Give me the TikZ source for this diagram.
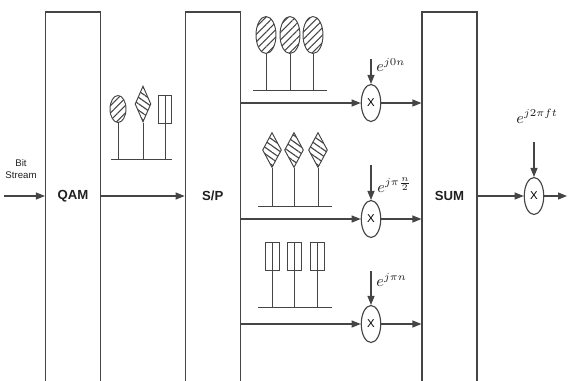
\documentclass[tikz,border=0pt]{standalone}
\usepackage{fontspec}
\setsansfont{Liberation Sans}
\usepackage{xcolor}
\definecolor{lineGray}{HTML}{454545}
\definecolor{darkText}{HTML}{202020}
\usepackage{tikz}
\usetikzlibrary{
    shapes.geometric,
    arrows.meta,
    patterns.meta,
    positioning,
    calc
}
\tikzset{
    % Tall blocks, open at the bottom of the page
    block/.style={
        rectangle,
        draw=lineGray,
        line width=0.65pt,
        minimum width=1.1cm,
        minimum height=8cm,
        inner sep=0pt,
    },
    % Text inside the blocks
    block label/.style={
        font=\sffamily\bfseries\fontsize{7.5}{8}\selectfont,
        text=darkText,
    },
    % Multiplier ellipses
    mixer/.style={
        ellipse,
        draw=lineGray,
        line width=0.65pt,
        fill=white,
        minimum width=0.39cm,
        minimum height=0.74cm,
        inner sep=0pt,
        font=\sffamily\fontsize{6.5}{7}\selectfont,
    },
    % Symbol shapes on stems
    oval sym/.style={
        ellipse,
        draw=lineGray,
        line width=0.55pt,
        pattern={Lines[angle=45, distance=3pt, line width=0.6pt]},
        pattern color=lineGray,
        inner sep=0pt,
    },
    diamond sym/.style={
        diamond,
        draw=lineGray,
        line width=0.55pt,
        pattern={Lines[angle=-35, distance=3pt, line width=0.65pt]},
        pattern color=lineGray,
        inner sep=0pt,
    },
    bar sym/.style={
        rectangle,
        draw=lineGray,
        line width=0.55pt,
        inner sep=0pt,
        path picture={
            \draw[lineGray, line width=0.45pt] (path picture bounding box.north) -- (path picture bounding box.south);
        },
    },
    stem/.style={
        draw=lineGray,
        line width=0.55pt,
    },
    % Arrow style
    arrow/.style={
        -{Triangle[length=1.8mm, width=1.4mm]},
        line width=0.65pt,
        draw=lineGray,
    },
    phase label/.style={
        font=\small,
        text=darkText,
        inner sep=0pt,
    },
}

\begin{document}
\begin{tikzpicture}[x=0.02cm, y=-0.02cm]
    \useasboundingbox (0,0) rectangle (568,380);

    % blocks
    \node (qam) [block] at (73,212) {};
    \node (sp) [block] at (212.7,212) {};
    \node (sum) [block] at (449.5,212) {};
    \node (qamtext) [block label] at (73,196) {QAM};
    \node (sptext) [block label] at (212.7,196) {S/P};
    \node (sumtext) [block label] at (449.5,196) {SUM};

    % input
    \coordinate (bitin) at (4,196);
    \node (bittext) [font=\sffamily\fontsize{5.5}{7}\selectfont, align=center, text=darkText] at (21,169) {Bit\\Stream};
    \draw [arrow] (bitin) -- (bitin -| qam.west);
    \draw [arrow] (qamtext -| qam.east) -- (qamtext -| sp.west);

    % symbols between QAM and S/P
    \node (sa1) [oval sym, minimum width=0.32cm, minimum height=0.54cm] at (118,109) {};
    \node (sa2) [diamond sym, minimum width=0.32cm, minimum height=0.72cm] at (143,104) {};
    \node (sa3) [bar sym, minimum width=0.26cm, minimum height=0.56cm] at (165,109) {};
    \coordinate (basea) at (111,159);
    \draw [stem] (basea) -- (172,159);
    \foreach \s in {sa1,sa2,sa3}
        \draw [stem] (\s.south) -- (\s.south |- basea);

    % symbols after S/P
    \foreach \x [count=\i] in {266,290,313}
        \node (so\i) [oval sym, minimum width=0.4cm, minimum height=0.74cm] at (\x,35) {};
    \foreach \x [count=\i] in {272,294,318}
        \node (sd\i) [diamond sym, minimum width=0.38cm, minimum height=0.7cm] at (\x,150) {};
    \foreach \x [count=\i] in {272,294,317}
        \node (sr\i) [bar sym, minimum width=0.28cm, minimum height=0.56cm] at (\x,256) {};
    \coordinate (baseo) at (253,90);
    \coordinate (based) at (258,206);
    \coordinate (baser) at (258,307);
    \draw [stem] (baseo) -- (327,90);
    \draw [stem] (based) -- (332,206);
    \draw [stem] (baser) -- (332,307);
    \foreach \i in {1,2,3} {
        \draw [stem] (so\i.south) -- (so\i.south |- baseo);
        \draw [stem] (sd\i.south) -- (sd\i.south |- based);
        \draw [stem] (sr\i.south) -- (sr\i.south |- baser);
    }

    % multipliers
    \node (mix1) [mixer] at (371,103) {X};
    \node (mix2) [mixer] at (371,219) {X};
    \node (mix3) [mixer] at (371,324) {X};
    \node (mixout) [mixer] at (534,196) {X};

    \coordinate (car1) at (371,59);
    \coordinate (car2) at (371,165);
    \coordinate (car3) at (371,271);
    \coordinate (carout) at (534,142);
    \node (ph1) [phase label, anchor=west] at (376,65) {$e^{j0n}$};
    \node (ph2) [phase label, anchor=west] at (377,185) {$e^{j\pi\frac{n}{2}}$};
    \node (ph3) [phase label, anchor=west] at (376,280) {$e^{j\pi n}$};
    \node (phout) [phase label] at (537,116) {$e^{j2\pi ft}$};

    \foreach \i in {1,2,3} {
        \draw [arrow] (car\i) -- (mix\i.north);
        \draw [arrow] (mix\i -| sp.east) -- (mix\i.west);
        \draw [arrow] (mix\i.east) -- (mix\i -| sum.west);
    }
    \draw [arrow] (carout) -- (mixout.north);
    \draw [arrow] (mixout -| sum.east) -- (mixout.west);
    \coordinate (out) at (567,196);
    \draw [arrow] (mixout.east) -- (out);
\end{tikzpicture}
\end{document}
